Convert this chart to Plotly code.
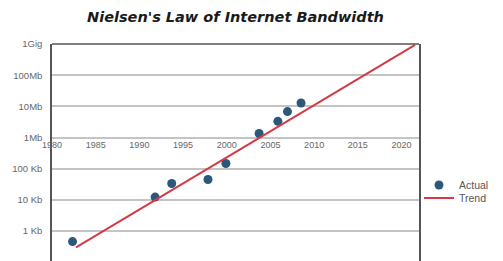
import math
import plotly.graph_objects as go

# ---- data ----
actual_years = [1982.35, 1991.8, 1993.7, 1997.85, 1999.9, 2003.7, 2005.85, 2006.95, 2008.5]
actual_bps = [460, 12300, 33500, 45000, 147000, 1.35e6, 3.3e6, 6.8e6, 12.8e6]

trend_years = [1982.75, 2021.55]
trend_bps = [300, 9.3e8]

y_tick_vals = [1e3, 1e4, 1e5, 1e6, 1e7, 1e8, 1e9]
y_tick_text = ["1 Kb", "10 Kb", "100 Kb", "1Mb", "10Mb", "100Mb", "1Gig"]
x_tick_vals = [1980, 1985, 1990, 1995, 2000, 2005, 2010, 2015, 2020]
x_tick_text = [str(v) for v in x_tick_vals]

x_range = [1980, 2022]
y_log_range = [2.04, 9]
x_axis_cross = 1e6  # category axis crosses at 1Mb

fig = go.Figure()
fig.add_trace(go.Scatter(
    x=actual_years, y=actual_bps, mode="markers", name="Actual",
    marker=dict(color="#2b5878", size=9), legend="legend", showlegend=True,
))
fig.add_trace(go.Scatter(
    x=trend_years, y=trend_bps, mode="lines", name="Trend",
    line=dict(color="#d43a46", width=2), legend="legend2", showlegend=True,
))

cross_pos = (math.log10(x_axis_cross) - y_log_range[0]) / (y_log_range[1] - y_log_range[0])

x_tick_font = dict(family="Liberation Sans, Arial, sans-serif", size=9, color="#666666")
y_tick_font = dict(family="Liberation Sans, Arial, sans-serif", size=9.5, color="#666666")
legend_font = dict(family="Liberation Sans, Arial, sans-serif", size=10.5, color="#555555")

# page body adds an 8px offset, so the figure is 8px smaller than the window
fig.update_layout(
    width=495, height=253,
    margin=dict(l=44, r=84, t=36, b=0),
    paper_bgcolor="white", plot_bgcolor="white",
    showlegend=True,
    title=dict(
        text="Nielsen's Law of Internet Bandwidth",
        x=0.5, xref="paper", xanchor="center",
        y=1 - 9 / 253, yref="container", yanchor="middle",
        font=dict(family="DejaVu Sans", size=14.5, weight="bold", style="italic", color="#1a1a1a"),
    ),
    xaxis=dict(
        range=x_range, tickvals=x_tick_vals, ticktext=x_tick_text,
        showgrid=False, zeroline=False, showline=False,
        anchor="free", position=cross_pos,
        tickfont=x_tick_font, ticks="",
    ),
    yaxis=dict(
        type="log", range=y_log_range,
        tickvals=y_tick_vals, ticktext=y_tick_text,
        showgrid=True, gridcolor="#c4c4c4", gridwidth=1.5,
        showline=True, linecolor="#555555", linewidth=1.5, mirror=True,
        zeroline=False, ticks="", ticklabelstandoff=6,
        tickfont=y_tick_font,
    ),
    legend=dict(
        x=1.0, xanchor="left", y=0.35, yanchor="middle",
        font=legend_font, bgcolor="rgba(0,0,0,0)", visible=True,
    ),
    legend2=dict(
        x=1.0, xanchor="left", y=0.29, yanchor="middle",
        font=legend_font, bgcolor="rgba(0,0,0,0)", visible=True,
    ),
    shapes=[dict(type="line", xref="paper", yref="paper", x0=0, x1=1, y0=1, y1=1,
                 line=dict(color="#555555", width=1.5))],
)

fig.write_html("out.html")
